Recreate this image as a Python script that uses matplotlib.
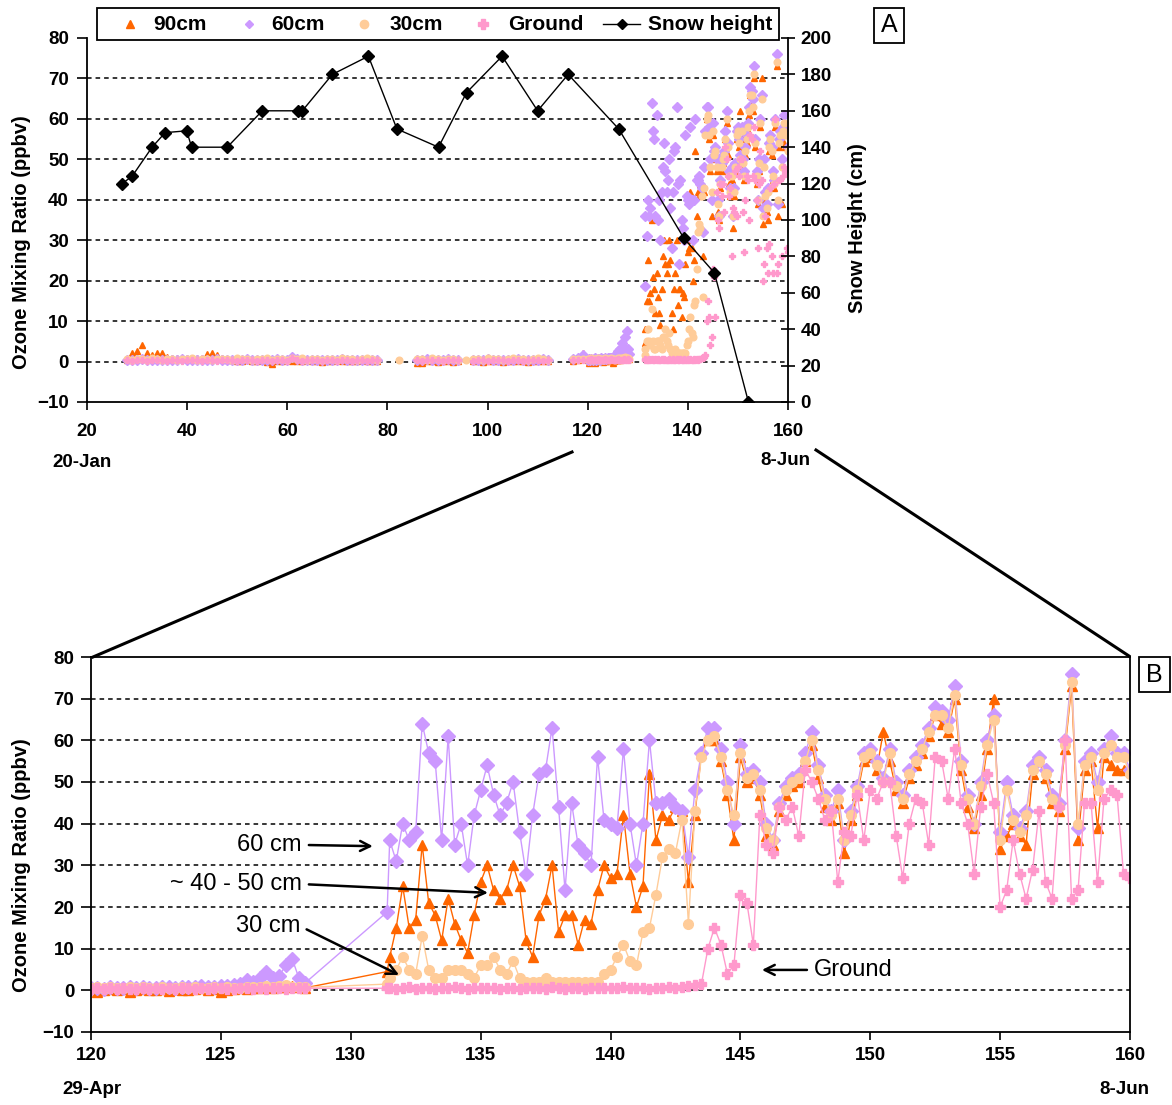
import numpy as np
import matplotlib.pyplot as plt
from matplotlib.lines import Line2D
from matplotlib.patches import Rectangle

plt.rcParams['font.family'] = ['Liberation Sans', 'DejaVu Sans']
plt.rcParams['font.weight'] = 'bold'
nan = np.nan

# ---------------- data ----------------
# snow height (cm) on the right axis of panel A
snow_days = [27, 29, 33, 35.6, 39.9, 40.9, 48, 55, 62.1, 63, 69, 76.2, 81.9, 90.2,
             95.8, 102.9, 110, 116.1, 126.2, 139.2, 145.3, 152.1]
snow_cm = [120, 124, 140, 148, 149, 140, 140, 160, 160, 160, 180, 190, 150, 140,
           170, 190, 160, 180, 150, 90, 71, 0]

# winter period (only visible in panel A), roughly daily
days_early = [28, 29, 30, 31, 32, 33, 34, 35, 36, 37,
              38, 39, 40, 41, 42, 43, 44, 45, 46, 47,
              48, 49, 50, 51, 52, 53, 54, 55, 56, 57,
              58, 59, 60, 61, 62, 63, 64, 65, 66, 67,
              68, 69, 70, 71, 72, 73, 74, 75, 76, 77,
              78, 82.3, 86, 87, 88, 89, 90, 91, 92, 93,
              94, 95.7, 97, 98, 99, 100, 101, 102, 103, 104,
              105, 106, 107, 108, 109, 110, 111, 112, 117, 118,
              119]
o3_90_early = [0.3, 2.0, 2.6, 4.0, 2.2, 1.5, 2.0, 2.0, 1.2, 0.8,
               1.0, 0.8, 0.8, 0.6, 0.8, 1.0, 1.8, 2.2, 1.5, 0.8,
               0.5, 0.3, 0.2, 0.2, 0.3, 0.1, 0.2, 0.3, 0.0, -0.5,
               0.2, 0.1, 0.3, 0.2, 0.1, 0.2, 0.3, 0.1, 0.2, 0.0,
               0.2, 0.1, 0.3, 0.2, 0.1, 0.2, 0.1, 0.3, 0.2, 0.1,
               0.2, nan, -0.4, -0.3, 0.1, 0.2, -0.2, 0.1, 0.2, 0.0,
               0.1, nan, 0.1, 0.2, 0.0, 0.1, 0.2, 0.1, 0.0, 0.2,
               0.1, 0.2, 0.1, 0.0, 0.2, 0.1, 0.2, 0.1, 0.2, 0.5,
               2.2]
o3_60_early = [0.4, 0.5, 0.3, 0.6, 0.4, 0.5, 0.3, 0.4, 0.5, 0.3,
               0.4, 0.6, 0.3, 0.5, 0.4, 0.3, 0.5, 0.4, 0.6, 0.3,
               0.4, 0.5, 0.3, 0.4, 0.6, 0.5, 0.4, 0.3, 0.5, 0.4,
               0.6, 0.4, 0.5, 1.2, 0.7, 0.4, 0.5, 0.3, 0.4, 0.5,
               0.3, 0.4, 0.5, 0.6, 0.4, 0.3, 0.5, 0.4, 0.3, 0.5,
               0.4, nan, 0.5, 0.4, 0.6, 0.3, 0.5, 0.4, 0.6, 0.5,
               0.4, nan, 0.5, 0.3, 0.4, 0.6, 0.5, 0.4, 0.3, 0.5,
               0.4, 0.6, 0.5, 0.3, 0.4, 0.5, 0.6, 0.4, 0.6, 0.8,
               1.5]
o3_30_early = [0.6, 0.5, 0.7, 0.6, 0.5, 0.8, 0.6, 0.5, 0.7, 0.6,
               0.5, 0.7, 0.6, 0.8, 0.5, 0.6, 0.7, 0.5, 0.6, 0.7,
               0.6, 0.5, 0.8, 0.7, 0.6, 0.5, 0.7, 0.6, 0.8, 0.5,
               0.6, 0.7, 0.5, 0.9, 0.6, 0.8, 0.5, 0.7, 0.6, 0.5,
               0.7, 0.6, 0.5, 0.8, 0.6, 0.7, 0.5, 0.6, 0.8, 0.6,
               0.5, 0.4, 0.6, 0.7, 0.5, 0.8, 0.6, 0.5, 0.7, 0.6,
               0.5, 0.4, 0.7, 0.6, 0.5, 0.8, 0.6, 0.7, 0.5, 0.6,
               0.8, 0.6, 0.7, 0.5, 0.6, 0.8, 0.7, 0.5, 0.6, 0.7,
               0.6]
o3_gr_early = [0.3, 0.2, 0.4, 0.3, 0.2, 0.4, 0.3, 0.5, 0.2, 0.3,
               0.4, 0.2, 0.3, 0.5, 0.3, 0.2, 0.4, 0.3, 0.2, 0.4,
               0.3, 0.4, 0.2, 0.3, 0.5, 0.3, 0.2, 0.4, 0.3, 0.2,
               0.3, 0.4, 0.2, 0.8, 0.3, 0.2, 0.4, 0.3, 0.5, 0.2,
               0.3, 0.4, 0.2, 0.3, 0.5, 0.2, 0.3, 0.4, 0.2, 0.3,
               0.4, nan, 0.3, 0.2, 0.4, 0.3, 0.5, 0.2, 0.3, 0.4,
               0.3, nan, 0.2, 0.4, 0.3, 0.2, 0.5, 0.3, 0.4, 0.2,
               0.3, 0.4, 0.2, 0.3, 0.5, 0.4, 0.2, 0.3, 0.4, 0.3,
               0.4]

# late April, before the data gap
days_pre = [120, 120.25, 120.5, 120.75, 121, 121.25, 121.5, 121.75,
            122, 122.25, 122.5, 122.75, 123, 123.25, 123.5, 123.75,
            124, 124.25, 124.5, 124.75, 125, 125.25, 125.5, 125.75,
            126, 126.25, 126.5, 126.75, 127, 127.25, 127.5, 127.75,
            128, 128.25]
o3_90_pre = [0.3, -0.4, 0.2, 0.4, 0.1, 0.3, -0.3, 0.2,
             0.4, 0.2, 0.1, 0.3, -0.2, 0.4, 0.2, 0.1,
             0.3, 0.5, 0.2, 0.4, -0.3, 0.2, 0.3, 0.5,
             0.4, 0.6, 0.5, 0.8, 0.6, 0.7, 0.9, 1.0,
             0.8, 0.6]
o3_60_pre = [0.5, 0.6, 0.4, 0.7, 0.5, 0.6, 0.8, 0.5,
             0.7, 0.6, 0.5, 0.8, 0.7, 0.6, 0.9, 0.7,
             0.8, 1.0, 0.8, 0.9, 1.1, 1.0, 1.2, 1.5,
             2.5, 2.0, 3.0, 4.5, 3.0, 3.5, 6.0, 7.5,
             3.0, 1.8]
o3_30_pre = [0.6, 0.7, 0.5, 0.8, 0.6, 0.5, 0.7, 0.6,
             0.8, 0.5, 0.6, 0.7, 0.5, 0.6, 0.8, 0.6,
             0.7, 0.5, 0.6, 0.8, 0.6, 0.7, 0.5, 0.6,
             0.8, 0.7, 0.9, 1.0, 0.8, 1.0, 1.2, 0.9,
             0.8, 0.7]
o3_gr_pre = [0.4, 0.5, 0.3, 0.6, 0.4, 0.5, 0.3, 0.4,
             0.6, 0.4, 0.5, 0.3, 0.5, 0.4, 0.6, 0.5,
             0.3, 0.5, 0.4, 0.6, 0.5, 0.3, 0.4, 0.5,
             0.6, 0.4, 0.5, 0.3, 0.5, 0.6, 0.4, 0.5,
             0.6, 0.5]

# May - June, quarter-day readings
days_main = [131.4, 131.5, 131.75,
             132, 132.25, 132.5, 132.75, 133, 133.25, 133.5, 133.75,
             134, 134.25, 134.5, 134.75, 135, 135.25, 135.5, 135.75,
             136, 136.25, 136.5, 136.75, 137, 137.25, 137.5, 137.75,
             138, 138.25, 138.5, 138.75, 139, 139.25, 139.5, 139.75,
             140, 140.25, 140.5, 140.75, 141, 141.25, 141.5, 141.75,
             142, 142.25, 142.5, 142.75, 143, 143.25, 143.5, 143.75,
             144, 144.25, 144.5, 144.75, 145, 145.25, 145.5, 145.75,
             146, 146.25, 146.5, 146.75, 147, 147.25, 147.5, 147.75,
             148, 148.25, 148.5, 148.75, 149, 149.25, 149.5, 149.75,
             150, 150.25, 150.5, 150.75, 151, 151.25, 151.5, 151.75,
             152, 152.25, 152.5, 152.75, 153, 153.25, 153.5, 153.75,
             154, 154.25, 154.5, 154.75, 155, 155.25, 155.5, 155.75,
             156, 156.25, 156.5, 156.75, 157, 157.25, 157.5, 157.75,
             158, 158.25, 158.5, 158.75, 159, 159.25, 159.5, 159.75,
             160]
o3_90_main = [4.5, 8, 15,
              25, 15, 17, 35, 21, 18, 12, 22,
              16, 12, 9, 18, 26, 30, 24, 22,
              24, 30, 25, 12, 8, 18, 22, 30,
              14, 18, 18, 11, 17, 16, 24, 30,
              27, 28, 42, 28, 20, 25, 52, 36,
              42, 41, 44, 43, 26, 42, 57, 60,
              60, 55, 47, 36, 56, 50, 51, 47,
              37, 35, 43, 47, 49, 50, 55, 59,
              51, 44, 41, 45, 33, 41, 47, 55,
              56, 53, 62, 55, 48, 45, 51, 54,
              57, 61, 66, 64, 62, 70, 53, 44,
              39, 47, 58, 70, 34, 37, 40, 37,
              35, 52, 55, 51, 45, 43, 58, 73,
              36, 53, 55, 39, 56, 54, 53, 53,
              53]
o3_60_main = [18.8, 36, 31,
              40, 36, 38, 64, 57, 55, 36, 61,
              35, 40, 30, 42, 48, 54, 47, 42,
              45, 50, 38, 28, 42, 52, 53, 63,
              44, 24, 45, 35, 33, 30, 56, 41,
              40, 39, 58, 40, 30, 40, 60, 45,
              45, 46, 44, 43, 32, 48, 57, 63,
              63, 58, 50, 40, 59, 52, 53, 50,
              40, 36, 45, 49, 51, 52, 57, 62,
              54, 47, 43, 48, 36, 43, 49, 57,
              58, 55, 51, 58, 50, 47, 53, 56,
              59, 63, 68, 67, 65, 73, 55, 47,
              40, 50, 60, 66, 38, 50, 42, 39,
              43, 54, 56, 53, 47, 45, 60, 76,
              39, 55, 57, 50, 58, 61, 57, 57,
              53]
o3_30_main = [1.5, 3, 5,
              8, 5, 4, 13, 5, 3, 3, 5,
              5, 5, 4, 3, 6, 6, 8, 5,
              4, 7, 3, 2, 2, 2, 3, 2,
              2, 2, 2, 2, 2, 2, 2, 4,
              5, 8, 11, 7, 6, 14, 15, 23,
              32, 34, 33, 41, 16, 43, 56, 60,
              61, 56, 48, 42, 57, 51, 52, 48,
              39, 36, 44, 48, 50, 51, 55, 60,
              53, 46, 42, 46, 36, 42, 48, 56,
              57, 54, 50, 57, 49, 46, 52, 55,
              58, 62, 66, 66, 63, 71, 54, 46,
              40, 49, 59, 65, 36, 48, 41, 38,
              42, 53, 55, 52, 46, 44, 59, 74,
              40, 54, 56, 48, 57, 59, 56, 56,
              52]
o3_gr_main = [0.5, 0.6, 0.4,
              0.5, 0.7, 0.4, 0.6, 0.5, 0.4, 0.6, 0.5,
              0.7, 0.5, 0.4, 0.6, 0.5, 0.6, 0.5, 0.4,
              0.5, 0.6, 0.4, 0.5, 0.6, 0.5, 0.4, 0.7,
              0.5, 0.4, 0.6, 0.5, 0.4, 0.6, 0.5, 0.5,
              0.6, 0.5, 0.7, 0.5, 0.5, 0.6, 0.4, 0.6,
              0.5, 0.7, 0.6, 0.8, 1.0, 1.2, 1.5, 10,
              15, 11, 4, 6, 23, 21, 11, 42,
              35, 33, 44, 41, 44, 37, 53, 50,
              46, 41, 43, 26, 38, 37, 47, 36,
              48, 46, 50, 50, 37, 27, 40, 46,
              45, 35, 56, 55, 46, 58, 45, 40,
              28, 44, 52, 45, 20, 24, 36, 28,
              22, 29, 43, 26, 22, 44, 60, 22,
              24, 45, 45, 26, 46, 48, 47, 28,
              27]

series_labels = ['90cm', '60cm', '30cm', 'Ground']
series_colors = ['#FF6600', '#CC99FF', '#FFCC99', '#FF99CC']
series_markers = ['^', 'D', 'o', 'P']

days_all = days_early + days_pre + days_main
ozone = [o3_90_early + o3_90_pre + o3_90_main,
         o3_60_early + o3_60_pre + o3_60_main,
         o3_30_early + o3_30_pre + o3_30_main,
         o3_gr_early + o3_gr_pre + o3_gr_main]

# ---------------- layout ----------------
W, H = 1172, 1105
fig = plt.figure(figsize=(W / 100, H / 100), dpi=100)


def fbox(l, t, r, b):
    return [l / W, 1 - b / H, (r - l) / W, (b - t) / H]


def fpt(x, y):
    return x / W, 1 - y / H


ax_a = fig.add_axes(fbox(87, 38, 788, 402))
ax_b = fig.add_axes(fbox(91, 657, 1130, 1032))

grid_kw = dict(color='black', linestyle=(0, (3, 2.6)), linewidth=1.1)

# ---------------- panel A ----------------
for vals, c, m in zip(ozone, series_colors, series_markers):
    ax_a.plot(days_all, vals, linestyle='none', marker=m, ms=4.8, color=c, mec=c)

ax_a.set_xlim(20, 160)
ax_a.set_ylim(-10, 80)
ax_a.set_xticks(range(20, 161, 20))
ax_a.set_yticks(range(-10, 81, 10))
ax_a.set_axisbelow(True)
ax_a.yaxis.grid(True, **grid_kw)
for gl, v in zip(ax_a.get_ygridlines(), ax_a.get_yticks()):
    if v in (-10, 80):
        gl.set_visible(False)
ax_a.spines['top'].set_visible(False)
ax_a.spines['right'].set_visible(False)
ax_a.tick_params(axis='x', direction='out', length=6, width=1.2, labelsize=13.5, pad=9)
ax_a.tick_params(axis='y', direction='out', length=7, width=1.2, labelsize=13.5, pad=6)

ax_s = ax_a.twinx()
ax_s.plot(snow_days, snow_cm, color='black', lw=1.0, marker='D', ms=6)
ax_s.set_ylim(0, 200)
ax_s.set_yticks(range(0, 201, 20))
for s in ('top', 'left', 'bottom'):
    ax_s.spines[s].set_visible(False)
ax_s.tick_params(axis='y', direction='inout', length=10, width=1.2, labelsize=13.5, pad=4)

for ax in (ax_a, ax_s, ax_b):
    for s in ax.spines.values():
        s.set_linewidth(1.3)

fig.text(*fpt(22, 242), 'Ozone Mixing Ratio (ppbv)', rotation=90, ha='center', va='center',
         fontsize=14.5)
fig.text(*fpt(857, 228), 'Snow Height (cm)', rotation=90, ha='center', va='center',
         fontsize=14.5)
fig.text(*fpt(82, 462), '20-Jan', ha='center', va='center', fontsize=13.5)
fig.text(*fpt(785, 460), '8-Jun', ha='center', va='center', fontsize=13.5)

# legend, laid out entry by entry as in the original box
legend_y = 24
entry_marker_x = [130, 249, 364, 483]
entry_text_x = [153, 271, 389, 508]
legend_ms = [6, 4.5, 6, 7]
for c, m, ms, mx, tx, lbl in zip(series_colors, series_markers, legend_ms,
                                 entry_marker_x, entry_text_x, series_labels):
    fig.add_artist(Line2D([mx / W], [1 - legend_y / H], transform=fig.transFigure,
                          linestyle='none', marker=m, ms=ms, color=c, mec=c))
    fig.text(*fpt(tx, legend_y), lbl, ha='left', va='center', fontsize=15)
fig.add_artist(Line2D([603 / W, 640 / W], [1 - legend_y / H] * 2, transform=fig.transFigure,
                      color='black', lw=1.0))
fig.add_artist(Line2D([622 / W], [1 - legend_y / H], transform=fig.transFigure,
                      linestyle='none', marker='D', ms=5, color='black'))
fig.text(*fpt(648, legend_y), 'Snow height', ha='left', va='center', fontsize=15)
fig.add_artist(Rectangle(fpt(97, 40), 682 / W, 32 / H, transform=fig.transFigure,
                         fill=False, ec='black', lw=1.3))

# panel letters
for lbl, (l, t, r, b) in (('A', (874, 8, 904, 43)), ('B', (1139, 657, 1170, 692))):
    fig.add_artist(Rectangle(fpt(l, b), (r - l) / W, (b - t) / H, transform=fig.transFigure,
                             fill=False, ec='black', lw=1.3))
    fig.text(*fpt((l + r) / 2, (t + b) / 2), lbl, ha='center', va='center', fontsize=18,
             fontweight='normal')

# zoom connectors
fig.add_artist(Line2D([572 / W, 93 / W], [1 - 452 / H, 1 - 657 / H],
                      transform=fig.transFigure, color='black', lw=2.2))
fig.add_artist(Line2D([816 / W, 1129 / W], [1 - 450 / H, 1 - 656 / H],
                      transform=fig.transFigure, color='black', lw=2.2))

# ---------------- panel B ----------------
for vals, c, m in zip(ozone, series_colors, series_markers):
    ax_b.plot(days_all, vals, linestyle='-', lw=1.0, marker=m, ms=7, color=c, mec=c)

ax_b.set_xlim(120, 160)
ax_b.set_ylim(-10, 80)
ax_b.set_xticks(range(120, 161, 5))
ax_b.set_yticks(range(-10, 81, 10))
ax_b.set_axisbelow(True)
ax_b.yaxis.grid(True, **grid_kw)
for gl, v in zip(ax_b.get_ygridlines(), ax_b.get_yticks()):
    if v in (-10, 80):
        gl.set_visible(False)
ax_b.tick_params(axis='x', direction='out', length=6, width=1.2, labelsize=13.5, pad=5)
ax_b.tick_params(axis='y', direction='out', length=7, width=1.2, labelsize=13.5, pad=5)

fig.text(*fpt(22, 865), 'Ozone Mixing Ratio (ppbv)', rotation=90, ha='center', va='center',
         fontsize=14.5)
fig.text(*fpt(92, 1090), '29-Apr', ha='center', va='center', fontsize=13.5)
fig.text(*fpt(1124, 1090), '8-Jun', ha='center', va='center', fontsize=13.5)

ann_font = dict(fontsize=17, fontweight='normal')
arrow_kw = dict(arrowstyle='->', color='black', lw=1.8, shrinkA=3, shrinkB=0,
                mutation_scale=18)
ax_b.annotate('60 cm', xy=(130.85, 34.6), xytext=(128.12, 34.9), ha='right', va='center',
              arrowprops=dict(relpos=(1, 0.5), **arrow_kw), **ann_font)
ax_b.annotate('~ 40 - 50 cm', xy=(135.28, 23.4), xytext=(128.12, 25.5), ha='right',
              va='center', arrowprops=dict(relpos=(1, 0.5), **arrow_kw), **ann_font)
ax_b.annotate('30 cm', xy=(131.86, 3.7), xytext=(128.05, 15.4), ha='right', va='center',
              arrowprops=dict(relpos=(1, 0.5), **arrow_kw), **ann_font)
ax_b.annotate('Ground', xy=(145.83, 4.9), xytext=(147.83, 4.9), ha='left', va='center',
              arrowprops=dict(relpos=(0, 0.5), **arrow_kw), **ann_font)

fig.savefig('out.png', dpi=100)
